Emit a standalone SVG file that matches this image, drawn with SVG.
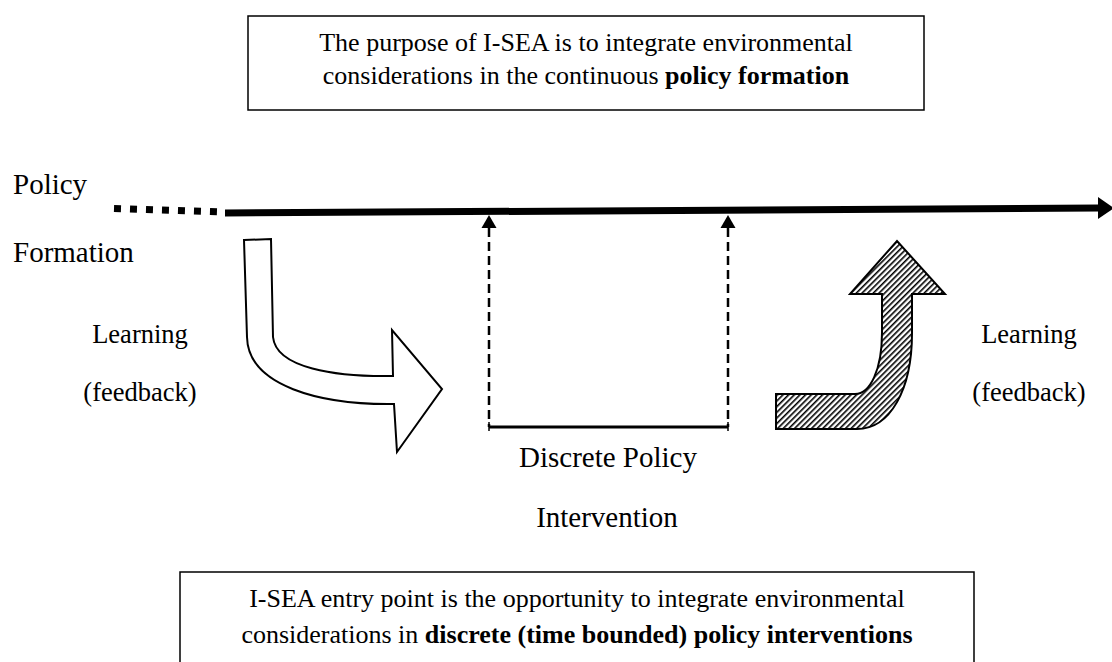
<svg xmlns="http://www.w3.org/2000/svg" width="1112" height="662" viewBox="0 0 1112 662">
<style>
  text { font-family: "Liberation Serif", "Times New Roman", serif; fill: #000; }
  .box { fill: #fff; stroke: #000; stroke-width: 1.5; }
  .bt { font-size: 26px; text-anchor: middle; }
  .lab { font-size: 29px; }
  .learn { font-size: 26.5px; text-anchor: middle; }
  .dash { stroke: #000; stroke-width: 2.5; stroke-dasharray: 9 5; fill: none; }
  .shape { stroke: #000; stroke-width: 2; stroke-linejoin: miter; }
</style>
<defs>
  <pattern id="hatch" width="4" height="4" patternUnits="userSpaceOnUse" patternTransform="rotate(45)">
    <rect x="0" y="0" width="4" height="4" fill="#fff"/>
    <rect x="0" y="0" width="1.6" height="4" fill="#000"/>
  </pattern>
</defs>

<g id="top-box">
  <rect class="box" x="248" y="16" width="676" height="94"/>
  <text class="bt" x="586" y="51">The purpose of I-SEA is to integrate environmental</text>
  <text class="bt" x="586" y="84">considerations in the continuous <tspan font-weight="bold">policy formation</tspan></text>
</g>

<g id="policy-formation-label">
  <text class="lab" x="13" y="194">Policy</text>
  <text class="lab" x="13" y="262">Formation</text>
</g>

<g id="connectors">
  <path d="M114,208.5 L222,212" stroke="#000" stroke-width="7" stroke-dasharray="7 9" fill="none"/>
  <path d="M225,213 L1099,208" stroke="#000" stroke-width="7" fill="none"/>
  <polygon points="1098,197 1114,208 1098,219" fill="#000"/>
  <line class="dash" x1="489" y1="228" x2="489" y2="427"/>
  <polygon points="481.5,228 489,215 496.5,228" fill="#000"/>
  <line class="dash" x1="728" y1="228" x2="728" y2="427"/>
  <polygon points="720.5,228 728,215 735.5,228" fill="#000"/>
  <line x1="489" y1="427" x2="728" y2="427" stroke="#000" stroke-width="3"/>
  <line x1="489" y1="422" x2="489" y2="431" stroke="#000" stroke-width="1.5"/>
  <line x1="728" y1="422" x2="728" y2="431" stroke="#000" stroke-width="1.5"/>
</g>

<g id="learning-left">
  <text class="learn" x="140" y="343">Learning</text>
  <text class="learn" x="140" y="401">(feedback)</text>
</g>

<g id="arrow-hollow">
  <path class="shape" fill="#fff" d="M244,240 L271,239 L273,337 C276,368 335,377 393,376 L392,330 L442,389 L397,452 L394,404 C320,405 248,386 247,337 Z"/>
</g>

<g id="discrete-label">
  <text class="lab" x="608" y="467" text-anchor="middle">Discrete Policy</text>
  <text class="lab" x="607" y="527" text-anchor="middle">Intervention</text>
</g>

<g id="arrow-hatched">
  <path class="shape" fill="url(#hatch)" d="M776,394 L855,394 C870,394 882,370 882,333 L882,294 L850,294 L897,241 L945,294 L912,294 L912,333 C912,390 890,429 857,429 L776,429 Z"/>
</g>

<g id="learning-right">
  <text class="learn" x="1029" y="343">Learning</text>
  <text class="learn" x="1029" y="401">(feedback)</text>
</g>

<g id="bottom-box">
  <path d="M180,663 V572 H974 V663" fill="#fff" stroke="#000" stroke-width="1.5"/>
  <text class="bt" x="577" y="607">I-SEA entry point is the opportunity to integrate environmental</text>
  <text class="bt" x="577" y="643">considerations in <tspan font-weight="bold">discrete (time bounded) policy interventions</tspan></text>
</g>
</svg>
